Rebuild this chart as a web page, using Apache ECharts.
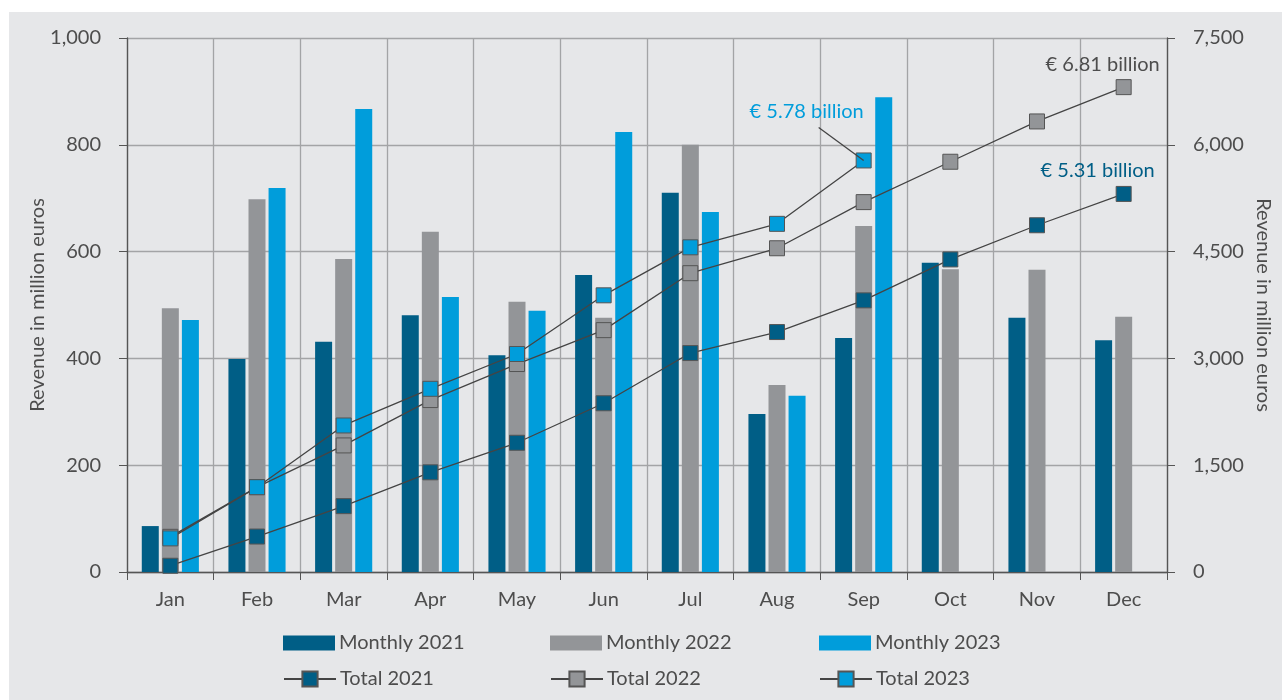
<!DOCTYPE html>
<html>
<head>
<meta charset="utf-8">
<script src="https://cdn.jsdelivr.net/npm/echarts@6/dist/echarts.min.js"></script>
<style>
  html, body { margin: 0; padding: 0; background: #fff; }
  #chart { width: 1282px; height: 700px; }
</style>
</head>
<body>
<div id="chart"></div>
<script>
// months on the x axis
var months = [ 'Jan', 'Feb', 'Mar', 'Apr', 'May', 'Jun', 'Jul', 'Aug', 'Sep', 'Oct', 'Nov', 'Dec' ];

// monthly revenue, million euros (left axis)
var monthly2021 = [ 86, 399, 431, 481, 406, 556, 710, 296, 438, 579, 476, 434 ];
var monthly2022 = [ 494, 698, 586, 637, 506, 476, 800, 350, 648, 567, 566, 478 ];
var monthly2023 = [ 472, 719, 867, 515, 489, 824, 674, 330, 889 ];

// running totals, million euros (right axis)
var total2021 = [ 88, 498, 925, 1400, 1815, 2370, 3075, 3370, 3815, 4390, 4870, 5310 ];
var total2022 = [ 494, 1192, 1778, 2415, 2921, 3397, 4197, 4547, 5195, 5762, 6328, 6810 ];
var total2023 = [ 472, 1191, 2058, 2573, 3062, 3886, 4560, 4890, 5780 ];

var leftTicks = { min: 0, max: 1000, interval: 200 };
var rightTicks = { min: 0, max: 7500, interval: 1500 };

var C21 = '#005e86',
    C22 = '#939598',
    C23 = '#009ddb',
    TXT = '#4d4d4d',
    FONT = 'Lato',
    FS = 20;

function fmt( v ) {
  return v.toLocaleString( 'en-US' );
}

// mark one point of a total line with its label
function withLabel( arr, idx, text, color, offset ) {
  return arr.map( function( v, i ) {
    if( i !== idx ) return v;
    return {
      value: v,
      label: {
        show: true,
        position: 'top',
        formatter: text,
        color: color,
        fontSize: FS,
        fontFamily: FONT,
        offset: offset
      }
    };
  } );
}

function barSeries( name, data, color ) {
  return {
    name: name,
    type: 'bar',
    data: data,
    barWidth: 17,
    barGap: '18%',
    itemStyle: { color: color },
    z: 2
  };
}

function lineSeries( name, data, color ) {
  return {
    name: name,
    type: 'line',
    yAxisIndex: 1,
    data: data,
    symbol: 'rect',
    symbolSize: 15,
    lineStyle: { color: '#444', width: 1.3 },
    itemStyle: { color: color, borderColor: '#555', borderWidth: 1 },
    z: 5
  };
}

function legendAt( name, left, top, isLine ) {
  var l = {
    data: [ name ],
    left: left,
    top: top,
    padding: 0,
    itemWidth: 52,
    itemHeight: isLine ? 19 : 15,
    itemGap: 0,
    selectedMode: false,
    textStyle: { color: TXT, fontSize: FS, fontFamily: FONT, padding: [ 0, 0, 0, -1 ] }
  };
  if( !isLine ) l.icon = 'rect';
  return l;
}

var chart = echarts.init( document.getElementById( 'chart' ) );

var option = {
  backgroundColor: '#fff',
  animation: false,
  textStyle: { fontFamily: FONT },
  graphic: [ {
    type: 'rect',
    left: 9,
    top: 12,
    shape: { width: 1273, height: 688 },
    style: { fill: '#e6e7e9' },
    z: -10,
    silent: true
  } ],
  grid: { left: 127, right: 115, top: 38, bottom: 128, outerBoundsMode: 'none' },
  legend: [
    legendAt( 'Monthly 2021', 283, 633, false ),
    legendAt( 'Monthly 2022', 550, 633, false ),
    legendAt( 'Monthly 2023', 819, 633, false ),
    legendAt( 'Total 2021', 283, 669, true ),
    legendAt( 'Total 2022', 550, 669, true ),
    legendAt( 'Total 2023', 819, 669, true )
  ],
  xAxis: {
    type: 'category',
    data: months,
    axisLine: { lineStyle: { color: '#555', width: 1.3 } },
    axisTick: { show: true, length: 8, lineStyle: { color: '#555' } },
    axisLabel: { color: TXT, fontSize: FS, fontFamily: FONT, margin: 18 },
    splitLine: { show: true, lineStyle: { color: '#a3a4a6', width: 1.3 } }
  },
  yAxis: [ {
    type: 'value',
    min: leftTicks.min,
    max: leftTicks.max,
    interval: leftTicks.interval,
    name: 'Revenue in million euros',
    nameLocation: 'middle',
    nameGap: 79,
    nameMoveOverlap: false,
    nameTextStyle: { color: TXT, fontSize: FS, fontFamily: FONT },
    axisLine: { show: true, lineStyle: { color: '#555', width: 1.3 } },
    axisTick: { show: true, length: 8, lineStyle: { color: '#555' } },
    axisLabel: { color: TXT, fontSize: FS, fontFamily: FONT, margin: 26, formatter: fmt },
    splitLine: { show: true, lineStyle: { color: '#a3a4a6', width: 1.3 } }
  }, {
    type: 'value',
    min: rightTicks.min,
    max: rightTicks.max,
    interval: rightTicks.interval,
    position: 'right',
    name: 'Revenue in million euros',
    nameLocation: 'middle',
    nameGap: 86,
    nameRotate: -90,
    nameMoveOverlap: false,
    nameTextStyle: { color: TXT, fontSize: FS, fontFamily: FONT },
    axisLine: { show: true, lineStyle: { color: '#555', width: 1.3 } },
    axisTick: { show: true, length: 8, lineStyle: { color: '#555' } },
    axisLabel: { color: TXT, fontSize: FS, fontFamily: FONT, margin: 26, formatter: fmt },
    splitLine: { show: false }
  } ],
  series: [
    barSeries( 'Monthly 2021', monthly2021, C21 ),
    barSeries( 'Monthly 2022', monthly2022, C22 ),
    barSeries( 'Monthly 2023', monthly2023, C23 ),
    lineSeries( 'Total 2021', withLabel( total2021, 11, '€ 5.31 billion', C21, [ -26, 0 ] ), C21 ),
    lineSeries( 'Total 2022', withLabel( total2022, 11, '€ 6.81 billion', TXT, [ -21, 0 ] ), C22 ),
    lineSeries( 'Total 2023', withLabel( total2023, 8, '€ 5.78 billion', C23, [ -57, -26 ] ), C23 )
  ]
};

chart.setOption( option );

// leader line from the 2023 label down to its point
var p = chart.convertToPixel( { xAxisIndex: 0, yAxisIndex: 1 }, [ 'Sep', total2023[ 8 ] ] );
chart.setOption( {
  graphic: [ option.graphic[ 0 ], {
    type: 'line',
    shape: { x1: p[ 0 ] - 45, y1: p[ 1 ] - 33, x2: p[ 0 ], y2: p[ 1 ] },
    style: { stroke: '#444', lineWidth: 1.3 },
    z: 100,
    silent: true
  } ]
} );
</script>
</body>
</html>
